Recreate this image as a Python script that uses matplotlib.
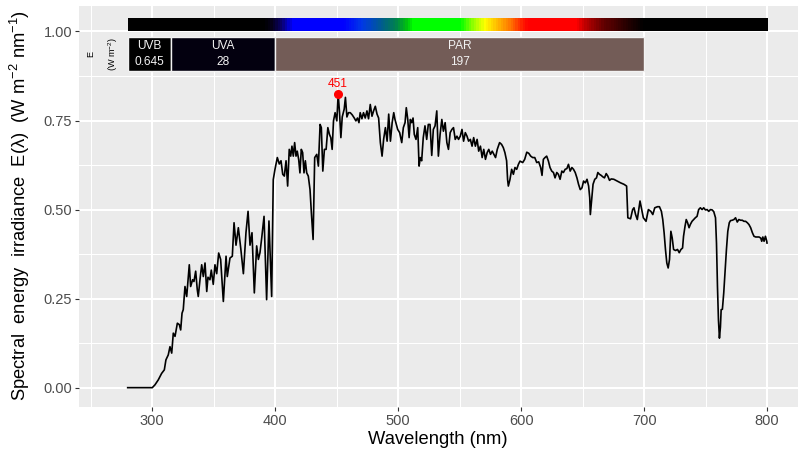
import matplotlib
matplotlib.use('Agg')
import matplotlib.pyplot as plt
import numpy as np
from matplotlib.colors import LinearSegmentedColormap, Normalize
from matplotlib.patches import Rectangle

plt.rcParams['font.family'] = ['Liberation Sans', 'DejaVu Sans']
plt.rcParams['mathtext.fontset'] = 'custom'
plt.rcParams['mathtext.rm'] = 'Liberation Sans'
plt.rcParams['mathtext.it'] = 'Liberation Sans:italic'
plt.rcParams['mathtext.default'] = 'regular'

# ---- data ----
wavelength = [
    280.0, 290.0, 300.0, 302.2, 304.9, 307.6, 309.8, 311.1, 313.0, 314.4, 315.8, 317.1, 318.5,
    320.4, 322.0, 323.1, 324.2, 325.2, 326.6, 328.0, 328.8, 330.1, 331.2, 332.8, 333.9, 335.3,
    336.6, 337.4, 338.8, 340.2, 341.5, 342.9, 344.3, 345.3, 346.9, 348.0, 349.6, 351.0, 352.4,
    354.0, 355.6, 357.8, 360.0, 361.0, 363.2, 365.1, 366.5, 368.1, 370.0, 372.0, 374.1, 376.2,
    377.9, 379.5, 381.1, 383.0, 384.9, 386.3, 387.6, 389.0, 390.9, 393.0, 394.9, 397.1,
    398.4, 399.8, 401.7, 403.3, 404.7, 406.1, 407.4, 408.8, 410.1, 411.4, 412.6, 413.6, 414.7,
    415.8, 416.9, 417.9, 419.1, 420.1, 421.2, 422.3, 423.4, 424.5, 425.6, 426.9, 428.3, 429.4,
    430.8, 432.1, 433.8, 435.1, 436.5, 437.5, 438.7, 440.0, 441.4, 442.8, 444.1, 445.2, 446.3,
    447.4, 448.7, 450.1, 451.2, 452.3, 453.4, 454.5, 456.1, 457.1, 458.3, 459.6, 461.0, 462.6,
    464.3, 465.6, 466.9, 468.1, 469.1, 470.5, 471.8, 473.2, 474.6, 475.9, 477.3, 478.7, 480.0,
    481.4, 482.8, 484.1, 485.5, 486.9, 488.2, 489.6, 491.0, 492.3, 493.7, 495.1, 496.4,
    497.4, 499.6, 501.2, 502.9, 504.2, 505.6, 506.6, 507.8, 508.9, 509.9, 511.0, 512.1, 513.1,
    514.5, 515.9, 517.0, 518.0, 519.1, 520.4, 521.8, 523.2, 524.5, 525.9, 527.3, 528.6, 530.0,
    531.4, 532.7, 534.1, 535.5, 536.8, 538.2, 539.6, 540.9, 542.3, 543.7, 545.0, 546.4, 547.8,
    549.1, 550.5, 551.9, 553.2, 554.6, 556.0, 557.3, 558.7, 560.1, 561.4, 562.8, 564.2, 565.5,
    566.9, 568.3, 569.6, 571.0, 572.4, 573.7, 575.1, 576.5, 577.8, 579.2, 580.6, 582.5, 584.1,
    585.5, 586.8, 588.2, 589.0, 589.6, 590.9, 592.3, 593.7, 595.0, 596.4, 597.8,
    599.1, 601.3, 602.9, 604.6, 606.2, 607.8, 609.4, 611.1, 612.7, 614.3, 615.9, 617.0, 618.1,
    619.4, 620.8, 622.2, 623.5, 624.9, 626.3, 627.6, 629.0, 630.3, 631.7, 633.1, 634.4, 635.8,
    637.2, 638.5, 639.9, 641.3, 642.6, 644.0, 645.4, 646.7, 648.1, 649.5, 650.8, 652.2, 653.6,
    654.9, 655.8, 656.3, 657.4, 658.5, 659.9, 661.3, 662.4, 663.7, 665.1, 666.4, 667.8, 669.2,
    670.5, 671.9, 673.3, 675.4, 678.1, 680.9, 683.6, 685.8, 686.8, 689.0, 690.7, 691.8, 693.1,
    694.5,
    696.7, 699.4, 701.6, 703.5, 705.5, 707.1, 708.7, 710.9, 712.5, 714.1, 715.2, 716.3, 717.4,
    718.5, 719.6, 720.7, 721.8, 722.9, 724.0, 725.6, 727.2, 728.6, 730.0, 731.3, 732.1, 733.3,
    734.3, 735.4, 736.6, 737.6, 739.0, 740.3, 741.7, 743.1, 744.4, 745.8, 747.2, 748.5, 749.9,
    751.3, 752.6, 754.0, 755.4, 756.7, 758.1, 758.9, 759.7, 760.5, 761.3, 762.1, 762.7, 763.7,
    764.8, 766.0, 767.0, 768.1, 769.3, 770.3, 771.7, 773.1, 774.4, 775.8, 777.1, 778.5, 779.9,
    781.2, 782.6, 784.0, 785.3, 786.7, 788.1, 789.4, 790.8, 792.2, 793.5, 794.9, 795.7, 796.6,
    797.6, 798.7, 799.8, 800.0,
]
irradiance = [
    0.0, 0.0, 0.0, 0.008, 0.022, 0.040, 0.050, 0.078, 0.092, 0.115, 0.097, 0.153, 0.144,
    0.181, 0.177, 0.162, 0.209, 0.219, 0.284, 0.256, 0.290, 0.345, 0.284, 0.303, 0.298, 0.327,
    0.275, 0.256, 0.303, 0.345, 0.312, 0.350, 0.270, 0.310, 0.303, 0.330, 0.290, 0.345, 0.320,
    0.378, 0.360, 0.242, 0.369, 0.312, 0.364, 0.369, 0.463, 0.400, 0.449, 0.390, 0.320, 0.435,
    0.495, 0.400, 0.435, 0.266, 0.398, 0.360, 0.379, 0.420, 0.481, 0.247, 0.468, 0.256,
    0.584, 0.613, 0.646, 0.628, 0.637, 0.599, 0.594, 0.637, 0.566, 0.669, 0.650, 0.678, 0.650,
    0.688, 0.650, 0.664, 0.640, 0.603, 0.669, 0.660, 0.603, 0.637, 0.603, 0.594, 0.556, 0.491,
    0.416, 0.646, 0.655, 0.622, 0.739, 0.730, 0.608, 0.669, 0.669, 0.730, 0.711, 0.702, 0.669,
    0.749, 0.772, 0.749, 0.824, 0.772, 0.702, 0.760, 0.782, 0.815, 0.760, 0.772, 0.772, 0.766,
    0.757, 0.749, 0.757, 0.744, 0.772, 0.755, 0.772, 0.757, 0.777, 0.755, 0.795, 0.762, 0.777,
    0.790, 0.768, 0.757, 0.688, 0.650, 0.698, 0.730, 0.692, 0.768, 0.692, 0.744, 0.772,
    0.753, 0.725, 0.716, 0.688, 0.730, 0.744, 0.786, 0.753, 0.702, 0.753, 0.744, 0.757, 0.711,
    0.697, 0.730, 0.622, 0.646, 0.637, 0.702, 0.735, 0.697, 0.739, 0.739, 0.652, 0.725, 0.735,
    0.777, 0.650, 0.711, 0.753, 0.720, 0.744, 0.688, 0.669, 0.716, 0.725, 0.730, 0.697, 0.706,
    0.697, 0.706, 0.725, 0.692, 0.716, 0.706, 0.692, 0.697, 0.678, 0.702, 0.678, 0.697, 0.664,
    0.678, 0.646, 0.669, 0.641, 0.660, 0.669, 0.655, 0.664, 0.655, 0.646, 0.669, 0.688, 0.683,
    0.674, 0.660, 0.637, 0.584, 0.566, 0.584, 0.613, 0.599, 0.618, 0.613, 0.627,
    0.636, 0.632, 0.641, 0.661, 0.658, 0.650, 0.646, 0.646, 0.632, 0.634, 0.618, 0.596, 0.641,
    0.646, 0.650, 0.636, 0.618, 0.608, 0.604, 0.589, 0.604, 0.599, 0.585, 0.608, 0.604, 0.613,
    0.615, 0.627, 0.608, 0.618, 0.613, 0.604, 0.589, 0.571, 0.556, 0.561, 0.580, 0.575, 0.585,
    0.566, 0.533, 0.486, 0.528, 0.571, 0.585, 0.589, 0.604, 0.599, 0.596, 0.592, 0.589, 0.601,
    0.594, 0.582, 0.586, 0.585, 0.580, 0.575, 0.571, 0.566, 0.477, 0.474, 0.500, 0.505, 0.486,
    0.472,
    0.524, 0.477, 0.467, 0.500, 0.495, 0.486, 0.505, 0.508, 0.508, 0.495, 0.472, 0.435, 0.388,
    0.350, 0.336, 0.360, 0.439, 0.420, 0.388, 0.385, 0.388, 0.379, 0.388, 0.392, 0.425, 0.453,
    0.472, 0.463, 0.449, 0.458, 0.467, 0.472, 0.477, 0.481, 0.500, 0.505, 0.500, 0.505, 0.499,
    0.500, 0.495, 0.500, 0.499, 0.494, 0.477, 0.406, 0.284, 0.190, 0.139, 0.170, 0.219, 0.220,
    0.266, 0.331, 0.388, 0.439, 0.463, 0.469, 0.470, 0.472, 0.477, 0.465, 0.472, 0.470, 0.470,
    0.467, 0.467, 0.463, 0.458, 0.449, 0.435, 0.425, 0.423, 0.423, 0.423, 0.420, 0.411, 0.423,
    0.411, 0.425, 0.411, 0.406,
]

# wavelength band summary boxes
band_names = ['UVB', 'UVA', 'PAR']
band_values = ['0.645', '28', '197']
band_low = [280, 315, 400]
band_high = [315, 400, 700]
band_colors = ['#000000', '#03000F', '#735C57']

# colour-bar anchors (wavelength nm -> colour)
bar_wl = [280, 390, 396, 405, 413, 455, 470, 485, 497, 506, 512, 550, 560, 570, 582, 592,
          601, 606, 645, 652, 668, 688, 700, 800]
bar_col = ['#000000', '#000000', '#050018', '#0A0070', '#0000FF', '#0000FF', '#0038E8',
           '#005C90', '#008050', '#00C010', '#00FF00', '#00FF00', '#90FF00', '#FFFF00',
           '#FFB000', '#FF7000', '#FF2000', '#FF0000', '#FF0000', '#C00000', '#600000',
           '#200000', '#000000', '#000000']

x_breaks = [300, 400, 500, 600, 700, 800]
y_breaks = [0.0, 0.25, 0.5, 0.75, 1.0]
y_labels = ['0.00', '0.25', '0.50', '0.75', '1.00']

# ---- figure ----
W, H = 799, 450
fig = plt.figure(figsize=(W / 100, H / 100), dpi=100)
L, R, T, B = 79, 798, 6, 407
ax = fig.add_axes([L / W, 1 - B / H, (R - L) / W, (B - T) / H])
ax.set_facecolor('#EBEBEB')
for s in ax.spines.values():
    s.set_visible(False)

# colour bar
lo, hi = bar_wl[0], bar_wl[-1]
cmap = LinearSegmentedColormap.from_list(
    'wl', [((w - lo) / (hi - lo), c) for w, c in zip(bar_wl, bar_col)], N=512)
bar_x = np.arange(lo, hi + 1, 2)
ax.imshow(bar_x[None, :], cmap=cmap, norm=Normalize(lo, hi),
          extent=[lo, hi, 1.0, 1.035], aspect='auto', interpolation='nearest', zorder=3)

# band boxes
for n, v, a, b, c in zip(band_names, band_values, band_low, band_high, band_colors):
    ax.add_patch(Rectangle((a, 0.889), b - a, 0.095, facecolor=c, edgecolor='#F2F2F2',
                           lw=1.0, zorder=3))
    xm = (a + b) / 2
    ax.text(xm, 0.959, n, color='#F2F2F2', fontsize=8.6, ha='center', va='center', zorder=4)
    ax.text(xm, 0.914, v, color='#F2F2F2', fontsize=8.6, ha='center', va='center', zorder=4)

ax.text(250.1, 0.936, 'E', rotation=90, fontsize=6.6, ha='center', va='center', color='black')
ax.text(268.0, 0.936, '(W m$^{-2}$)', rotation=90, fontsize=6.6, ha='center', va='center',
        color='black')

# spectrum
ax.plot(wavelength, irradiance, color='black', lw=1.2, zorder=2, solid_joinstyle='round')
ip = int(np.argmax(irradiance))
ax.plot(wavelength[ip], irradiance[ip], 'o', color='red', ms=5.5, zorder=5, mec='red')
ax.text(wavelength[ip], irradiance[ip] + 0.011, f'{wavelength[ip]:.0f}', color='red',
        fontsize=8.6, ha='center', va='bottom', zorder=5)

ax.set_xlim(240.4, 825.2)
ax.set_ylim(-0.0543, 1.0715)
ax.set_xticks(x_breaks)
ax.set_xticklabels([str(v) for v in x_breaks])
ax.set_yticks(y_breaks)
ax.set_yticklabels(y_labels)
ax.set_xticks([250, 350, 450, 550, 650, 750], minor=True)
ax.set_yticks([0.125, 0.375, 0.625, 0.875], minor=True)
ax.grid(which='major', color='white', lw=1.5)
ax.grid(which='minor', color='white', lw=0.75)
ax.set_axisbelow(True)
ax.tick_params(which='major', length=2.75, width=0.8, color='#333333',
               labelcolor='#4D4D4D', labelsize=10.5, pad=2.2)
ax.tick_params(which='minor', length=0)

fig.text(438 / W, 1 - 439 / H, 'Wavelength (nm)', fontsize=13.2, ha='center', va='center')
fig.text(20 / W, 1 - 205 / H,
         r'Spectral  energy  irradiance  E($\lambda$)  (W m$^{-2}$ nm$^{-1}$)',
         fontsize=13.2, rotation=90, ha='center', va='center')

fig.savefig('out.png', dpi=100)
